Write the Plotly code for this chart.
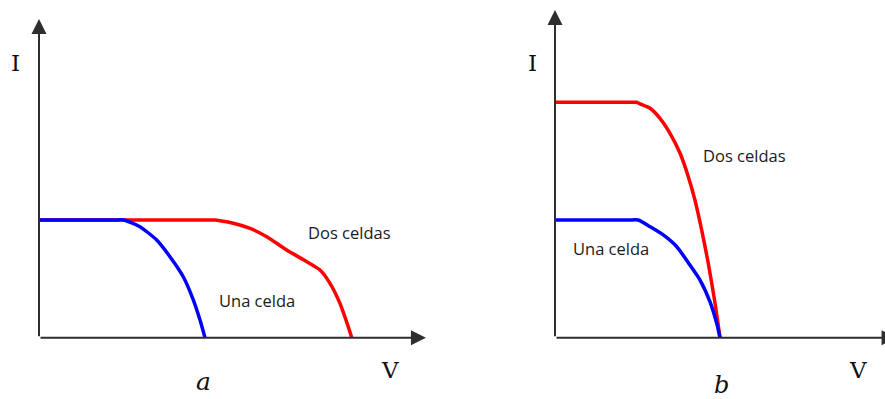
import plotly.graph_objects as go

# Panel a: one cell vs two cells in series (normalised V, I)
v_una_a = [0.0, 0.45, 0.51, 0.608, 0.709, 0.789, 0.869, 0.930, 0.970, 1.0]
i_una_a = [1.0, 1.0, 1.0, 0.943, 0.830, 0.688, 0.518, 0.320, 0.150, 0.0]

v_dos_a = [0.0, 0.98, 1.06, 1.170, 1.271, 1.372, 1.492, 1.613, 1.693, 1.753, 1.813, 1.863, 1.884]
i_dos_a = [1.0, 1.0, 1.0, 0.972, 0.929, 0.858, 0.745, 0.646, 0.575, 0.462, 0.292, 0.093, 0.0]

# Panel b: one cell vs two cells in parallel
v_una_b = [0.0, 0.44, 0.505, 0.576, 0.656, 0.738, 0.818, 0.879, 0.939, 0.980, 1.0]
i_una_b = [1.0, 1.0, 1.0, 0.943, 0.873, 0.773, 0.617, 0.490, 0.306, 0.122, 0.0]

v_dos_b = [0.0, 0.43, 0.495, 0.515, 0.576, 0.636, 0.697, 0.758, 0.808, 0.848, 0.889, 0.929, 0.970, 1.0]
i_dos_b = [2.0, 2.0, 2.0, 1.986, 1.949, 1.864, 1.737, 1.567, 1.368, 1.170, 0.915, 0.632, 0.292, 0.0]

ROJO = "#ff0000"
AZUL = "#0000ff"
TXT = "#1a1a1a"
EJE = "#2e2e2e"

fig = go.Figure()

def curva(x, y, color, xa, ya):
    fig.add_trace(go.Scatter(
        x=x, y=y, mode="lines", xaxis=xa, yaxis=ya,
        line=dict(color=color, width=3.5, shape="spline", smoothing=0.6),
        hoverinfo="skip", showlegend=False,
    ))

curva(v_dos_a, i_dos_a, ROJO, "x", "y")
curva(v_una_a, i_una_a, AZUL, "x", "y")
curva(v_dos_b, i_dos_b, ROJO, "x2", "y2")
curva(v_una_b, i_una_b, AZUL, "x2", "y2")

ann = []

def flecha(xref, yref, x, y):
    ann.append(dict(
        xref=xref, yref=yref, axref=xref, ayref=yref,
        x=x, y=y, ax=0, ay=0, text="", showarrow=True,
        arrowhead=2, arrowsize=1.5, arrowwidth=2, arrowcolor=EJE, standoff=0,
    ))

flecha("x", "y", 0, 2.708)
flecha("x", "y", 2.331, 0)
flecha("x2", "y2", 0, 2.784)
flecha("x2", "y2", 2.07, 0)

def texto(xref, yref, x, y, t, size, family, color=TXT):
    ann.append(dict(
        xref=xref, yref=yref, x=x, y=y, text=t, showarrow=False,
        font=dict(size=size, family=family, color=color),
        xanchor="center", yanchor="middle",
    ))

SANS = "Open Sans"
SERIF = "DejaVu Serif"

texto("x", "y", 1.873, 0.898, "Dos celdas", 16.5, SANS)
texto("x", "y", 1.316, 0.320, "Una celda", 16.5, SANS)
texto("x2", "y2", 1.148, 1.544, "Dos celdas", 16.5, SANS)
texto("x2", "y2", 0.342, 0.762, "Una celda", 16.5, SANS)

texto("x", "y", -0.139, 2.334, "I", 23, SERIF, "#111111")
texto("x2", "y2", -0.139, 2.334, "I", 23, SERIF, "#111111")
texto("x", "y", 2.114, -0.274, "V", 23, SERIF, "#111111")
texto("x2", "y2", 1.836, -0.274, "V", 23, SERIF, "#111111")
texto("x", "y", 0.988, -0.376, "<i>a</i>", 25, SERIF, "#111111")
texto("x2", "y2", 1.012, -0.40, "<i>b</i>", 24, SERIF, "#111111")

oculto = dict(showgrid=False, zeroline=False, showticklabels=False,
              showline=False, ticks="", fixedrange=True)

split = 440 / 885

fig.update_layout(
    width=885, height=399,
    margin=dict(l=0, r=0, t=0, b=0),
    paper_bgcolor="white", plot_bgcolor="white",
    showlegend=False,
    xaxis=dict(domain=[0, split], range=[-39 / 166, 401 / 166], anchor="y", **oculto),
    yaxis=dict(domain=[0, 1], range=[-61.3 / 117.7, 337.7 / 117.7], anchor="x", **oculto),
    xaxis2=dict(domain=[split, 1], range=[-115 / 165, 330 / 165], anchor="y2", **oculto),
    yaxis2=dict(domain=[0, 1], range=[-61.3 / 117.7, 337.7 / 117.7], anchor="x2", **oculto),
    annotations=ann,
)

fig.write_html("out.html")
